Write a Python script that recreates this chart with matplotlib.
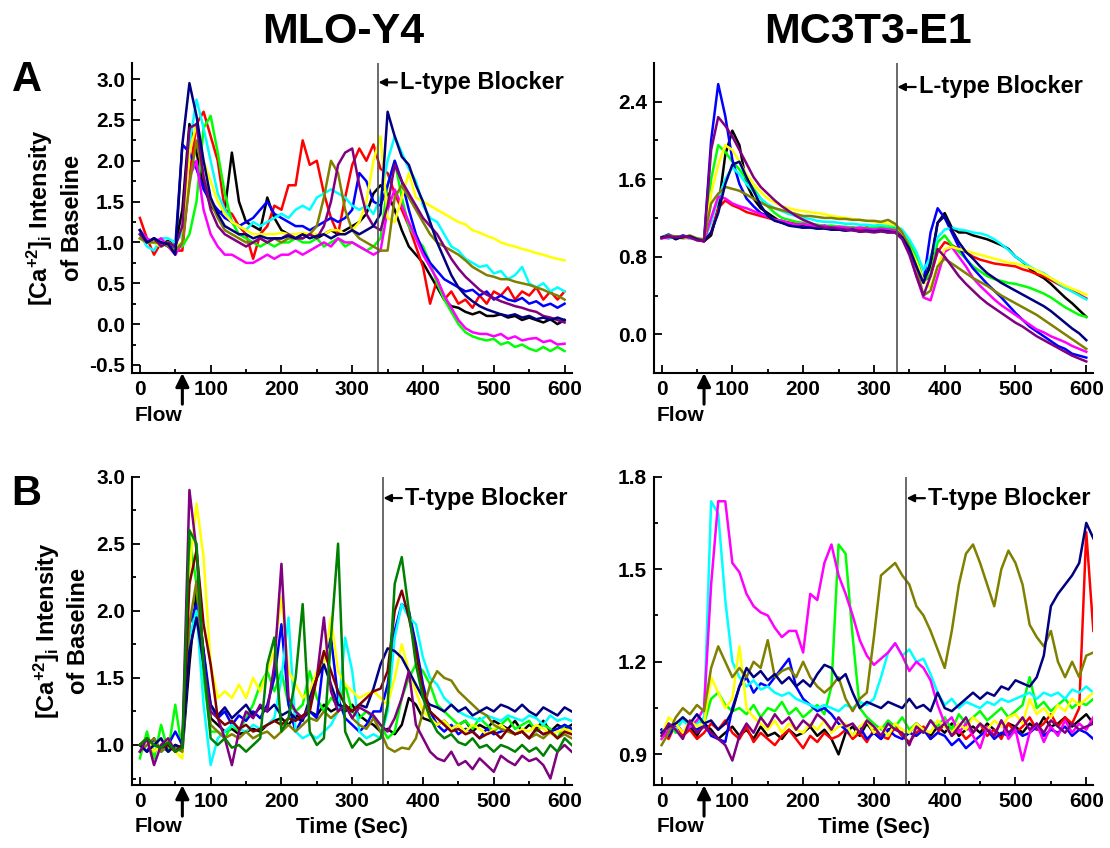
import matplotlib.pyplot as plt
import numpy as np

plt.rcParams['font.family'] = 'Liberation Sans'
plt.rcParams['font.weight'] = 'bold'
plt.rcParams['mathtext.fontset'] = 'custom'
plt.rcParams['mathtext.rm'] = 'Liberation Sans:bold'
plt.rcParams['mathtext.bf'] = 'Liberation Sans:bold'
plt.rcParams['mathtext.it'] = 'Liberation Sans:bold'
plt.rcParams['mathtext.default'] = 'bf'

# sample times (s)
time_a = np.arange(0, 601, 10)
time_b = np.arange(0, 611, 10)

# ---------------- A / MLO-Y4 (L-type blocker) ----------------
a_mlo_black = [
    1.10, 1.00, 1.05, 0.98, 1.02, 0.95, 1.40, 2.45, 2.10, 1.70,
    1.45, 1.35, 1.40, 2.10, 1.50, 1.25, 1.20, 1.15, 1.55, 1.30,
    1.15, 1.10, 1.05, 1.10, 1.10, 1.05, 1.10, 1.15, 1.10, 1.15,
    1.20, 1.25, 1.35, 1.60, 1.70, 1.60, 1.40, 1.15, 0.95, 0.85,
    0.75, 0.60, 0.45, 0.30, 0.22, 0.20, 0.15, 0.12, 0.15, 0.10,
    0.10, 0.12, 0.08, 0.10, 0.05, 0.08, 0.05, 0.02, 0.06, 0.00,
    0.05]
a_mlo_red = [
    1.30, 1.05, 0.85, 1.00, 0.95, 0.90, 0.90, 1.80, 2.45, 2.60,
    2.30, 2.00, 1.40, 1.35, 1.20, 1.10, 0.80, 1.10, 1.20, 1.45,
    1.40, 1.70, 1.70, 2.25, 1.95, 2.00, 1.60, 1.30, 1.10, 1.55,
    1.95, 2.15, 2.00, 2.20, 1.90, 1.85, 1.60, 1.40, 1.20, 0.95,
    0.70, 0.25, 0.55, 0.30, 0.40, 0.25, 0.30, 0.20, 0.35, 0.25,
    0.40, 0.35, 0.45, 0.30, 0.40, 0.35, 0.45, 0.30, 0.40, 0.30,
    0.40]
a_mlo_green = [
    1.05, 1.00, 1.00, 0.95, 1.00, 0.95, 0.95, 1.10, 1.50, 2.40,
    2.55, 2.10, 1.60, 1.25, 1.10, 1.05, 1.00, 0.95, 1.00, 0.95,
    1.00, 1.00, 1.05, 1.00, 1.00, 1.05, 0.95, 1.00, 1.05, 0.95,
    1.00, 0.95, 0.90, 0.95, 1.05, 1.70, 2.00, 1.55, 1.20, 1.05,
    0.95, 0.75, 0.50, 0.30, 0.15, 0.00, -0.10, -0.15, -0.18, -0.20,
    -0.18, -0.25, -0.22, -0.28, -0.25, -0.30, -0.33, -0.28, -0.33, -0.28,
    -0.33]
a_mlo_blue = [
    1.15, 1.00, 1.05, 1.00, 0.95, 0.95, 2.20, 2.10, 1.90, 1.65,
    1.50, 1.40, 1.30, 1.25, 1.20, 1.25, 1.30, 1.40, 1.50, 1.35,
    1.30, 1.25, 1.20, 1.20, 1.15, 1.20, 1.25, 1.30, 1.25, 1.30,
    1.40, 1.85, 1.75, 1.50, 1.45, 1.70, 2.00, 1.75, 1.40, 1.10,
    0.90, 0.75, 0.65, 0.55, 0.50, 0.45, 0.40, 0.42, 0.35, 0.40,
    0.30, 0.35, 0.30, 0.28, 0.32, 0.25, 0.28, 0.22, 0.25, 0.20,
    0.25]
a_mlo_cyan = [
    1.10, 0.95, 0.90, 1.05, 1.05, 1.00, 1.10, 2.20, 2.75, 2.40,
    2.00, 1.60, 1.40, 1.25, 1.20, 1.15, 1.25, 1.20, 1.25, 1.30,
    1.35, 1.30, 1.40, 1.45, 1.40, 1.55, 1.60, 1.65, 1.60, 1.55,
    1.45, 1.40, 1.45, 1.35, 1.55, 2.00, 2.30, 2.10, 1.90, 1.75,
    1.45, 1.30, 1.25, 1.10, 0.95, 0.90, 0.80, 0.75, 0.70, 0.72,
    0.62, 0.65, 0.55, 0.60, 0.70, 0.50, 0.45, 0.50, 0.40, 0.45,
    0.40]
a_mlo_magenta = [
    1.15, 1.05, 1.00, 1.05, 0.95, 0.85, 1.00, 1.80, 2.00, 1.40,
    1.10, 0.95, 0.85, 0.85, 0.80, 0.75, 0.75, 0.80, 0.85, 0.80,
    0.85, 0.85, 0.90, 0.85, 0.90, 0.95, 1.00, 0.95, 1.05, 1.00,
    1.00, 0.95, 0.90, 0.85, 0.90, 1.40, 1.65, 1.45, 1.25, 1.05,
    0.85, 0.70, 0.55, 0.35, 0.20, 0.05, -0.05, -0.10, -0.12, -0.12,
    -0.15, -0.12, -0.18, -0.15, -0.20, -0.18, -0.17, -0.22, -0.20, -0.25,
    -0.24]
a_mlo_yellow = [
    1.05, 1.00, 1.00, 0.95, 1.00, 0.95, 1.00, 2.10, 2.45, 2.00,
    1.75, 1.50, 1.35, 1.25, 1.20, 1.15, 1.10, 1.10, 1.10, 1.10,
    1.12, 1.10, 1.10, 1.12, 1.10, 1.10, 1.10, 1.15, 1.15, 1.10,
    1.15, 1.25, 1.50, 2.00, 2.30, 1.30, 1.25, 1.55, 1.85, 1.55,
    1.50, 1.45, 1.40, 1.35, 1.30, 1.25, 1.22, 1.15, 1.12, 1.08,
    1.05, 1.00, 0.97, 0.95, 0.92, 0.90, 0.87, 0.85, 0.82, 0.80,
    0.78]
a_mlo_olive = [
    1.05, 1.00, 1.00, 1.00, 0.95, 0.90, 1.00, 1.70, 2.25, 1.80,
    1.50, 1.30, 1.15, 1.10, 1.05, 1.00, 1.00, 1.05, 1.00, 1.05,
    1.00, 1.05, 1.05, 1.05, 1.10, 1.20, 1.55, 2.00, 1.85, 1.40,
    1.15, 1.05, 1.00, 0.95, 0.90, 0.90, 1.55, 1.70, 1.55, 1.40,
    1.25, 1.10, 1.00, 0.95, 0.90, 0.85, 0.78, 0.70, 0.65, 0.60,
    0.58, 0.55, 0.55, 0.52, 0.50, 0.48, 0.45, 0.42, 0.38, 0.35,
    0.30]
a_mlo_navy = [
    1.15, 1.00, 1.05, 1.00, 0.98, 0.85, 2.20, 2.95, 2.55, 2.00,
    1.55, 1.35, 1.20, 1.15, 1.10, 1.10, 1.05, 1.08, 1.05, 1.05,
    1.05, 1.08, 1.05, 1.10, 1.05, 1.08, 1.10, 1.05, 1.10, 1.10,
    1.15, 1.10, 1.15, 1.20, 1.35, 2.60, 2.30, 2.05, 1.95, 1.70,
    1.50, 1.25, 1.00, 0.80, 0.60, 0.45, 0.35, 0.28, 0.22, 0.18,
    0.15, 0.12, 0.10, 0.12, 0.08, 0.10, 0.06, 0.08, 0.05, 0.08,
    0.05]
a_mlo_purple = [
    1.10, 1.00, 1.05, 0.95, 1.00, 0.95, 1.20, 2.40, 2.45, 1.80,
    1.40, 1.20, 1.10, 1.05, 1.00, 0.95, 1.00, 1.05, 1.00, 1.05,
    1.05, 1.10, 1.05, 1.05, 1.10, 1.05, 1.20, 1.50, 1.95, 2.10,
    2.15, 1.70, 1.35, 1.20, 1.15, 1.45, 1.95, 1.75, 1.60, 1.45,
    1.30, 1.20, 1.10, 0.95, 0.80, 0.68, 0.58, 0.50, 0.42, 0.36,
    0.32, 0.28, 0.25, 0.22, 0.20, 0.17, 0.15, 0.10, 0.08, 0.05,
    0.02]

# ---------------- A / MC3T3-E1 (L-type blocker) ----------------
a_mc3_black = [
    1.00, 1.02, 0.98, 1.01, 1.00, 0.98, 0.96, 1.02, 1.30, 1.85,
    2.10, 1.95, 1.55, 1.40, 1.30, 1.25, 1.20, 1.15, 1.15, 1.12,
    1.13, 1.12, 1.10, 1.12, 1.10, 1.10, 1.08, 1.10, 1.08, 1.10,
    1.08, 1.10, 1.08, 1.10, 1.00, 0.85, 0.70, 0.55, 0.70, 1.15,
    1.25, 1.10, 1.05, 1.05, 1.02, 1.00, 0.98, 0.95, 0.92, 0.88,
    0.80, 0.75, 0.68, 0.62, 0.58, 0.52, 0.45, 0.38, 0.32, 0.25,
    0.18]
a_mc3_red = [
    1.00, 0.99, 1.01, 1.00, 0.99, 0.98, 0.96, 1.05, 1.30, 1.38,
    1.33, 1.30, 1.26, 1.24, 1.22, 1.20, 1.18, 1.17, 1.15, 1.15,
    1.14, 1.12, 1.12, 1.11, 1.10, 1.10, 1.09, 1.10, 1.08, 1.09,
    1.08, 1.10, 1.08, 1.08, 1.02, 0.90, 0.72, 0.55, 0.60, 0.85,
    0.95, 0.92, 0.88, 0.85, 0.80, 0.77, 0.75, 0.73, 0.72, 0.71,
    0.70, 0.67, 0.65, 0.62, 0.60, 0.56, 0.52, 0.48, 0.45, 0.41,
    0.37]
a_mc3_green = [
    1.00, 1.01, 1.00, 0.99, 1.01, 0.98, 0.97, 1.60, 1.95, 1.88,
    1.78, 1.70, 1.60, 1.50, 1.40, 1.32, 1.25, 1.20, 1.18, 1.16,
    1.15, 1.14, 1.13, 1.12, 1.12, 1.11, 1.11, 1.10, 1.10, 1.10,
    1.10, 1.11, 1.10, 1.10, 1.05, 0.95, 0.80, 0.55, 0.62, 0.95,
    1.02, 0.92, 0.85, 0.78, 0.70, 0.65, 0.60, 0.57, 0.55, 0.53,
    0.52, 0.50, 0.48, 0.45, 0.42, 0.38, 0.33, 0.28, 0.24, 0.20,
    0.18]
a_mc3_blue = [
    1.00, 1.03, 0.99, 1.02, 1.00, 0.98, 0.97, 2.00, 2.58, 2.25,
    1.80, 1.55, 1.40, 1.32, 1.25, 1.22, 1.18, 1.15, 1.13, 1.12,
    1.10, 1.11, 1.09, 1.10, 1.08, 1.08, 1.07, 1.08, 1.06, 1.07,
    1.06, 1.07, 1.05, 1.06, 1.00, 0.88, 0.70, 0.54, 1.05, 1.30,
    1.20, 1.05, 0.90, 0.78, 0.68, 0.60, 0.52, 0.45, 0.38, 0.30,
    0.22, 0.15, 0.08, 0.03, -0.02, -0.07, -0.12, -0.15, -0.20, -0.22,
    -0.24]
a_mc3_cyan = [
    1.00, 0.99, 1.01, 1.00, 0.99, 0.98, 0.97, 1.15, 1.40, 1.60,
    1.72, 1.65, 1.55, 1.47, 1.40, 1.34, 1.30, 1.27, 1.24, 1.22,
    1.20, 1.19, 1.17, 1.16, 1.16, 1.15, 1.14, 1.14, 1.13, 1.13,
    1.12, 1.13, 1.12, 1.12, 1.08, 0.98, 0.85, 0.66, 0.80, 1.00,
    1.08, 1.10, 1.08, 1.07, 1.05, 1.04, 1.02, 0.98, 0.93, 0.87,
    0.80, 0.75, 0.70, 0.66, 0.63, 0.58, 0.53, 0.48, 0.44, 0.40,
    0.36]
a_mc3_magenta = [
    0.99, 1.00, 1.01, 0.99, 1.00, 0.97, 0.96, 1.20, 1.42, 1.40,
    1.35, 1.32, 1.30, 1.27, 1.24, 1.21, 1.18, 1.17, 1.15, 1.13,
    1.14, 1.12, 1.11, 1.12, 1.10, 1.11, 1.10, 1.09, 1.10, 1.09,
    1.08, 1.09, 1.08, 1.07, 1.00, 0.85, 0.60, 0.38, 0.35, 0.60,
    0.85, 0.90, 0.80, 0.70, 0.58, 0.50, 0.43, 0.36, 0.30, 0.25,
    0.20, 0.15, 0.10, 0.05, 0.02, -0.02, -0.05, -0.08, -0.12, -0.15,
    -0.18]
a_mc3_yellow = [
    1.00, 1.01, 1.00, 0.99, 1.01, 0.98, 0.97, 1.45, 1.75, 1.95,
    1.90, 1.78, 1.65, 1.55, 1.47, 1.40, 1.36, 1.32, 1.30, 1.28,
    1.27, 1.26, 1.25, 1.24, 1.22, 1.21, 1.20, 1.19, 1.18, 1.17,
    1.16, 1.15, 1.14, 1.13, 1.05, 0.90, 0.75, 0.55, 0.48, 0.70,
    0.88, 0.90, 0.88, 0.86, 0.84, 0.82, 0.80, 0.78, 0.76, 0.74,
    0.73, 0.71, 0.69, 0.66, 0.62, 0.58, 0.54, 0.50, 0.47, 0.44,
    0.41]
a_mc3_olive = [
    1.00, 1.02, 1.01, 1.00, 1.02, 0.99, 0.98, 1.35, 1.45, 1.52,
    1.50, 1.48, 1.44, 1.40, 1.36, 1.32, 1.30, 1.28, 1.26, 1.24,
    1.22, 1.22, 1.21, 1.20, 1.20, 1.19, 1.19, 1.18, 1.18, 1.17,
    1.17, 1.16, 1.18, 1.14, 1.05, 0.90, 0.70, 0.40, 0.45, 0.70,
    0.78, 0.73, 0.68, 0.63, 0.58, 0.54, 0.50, 0.45, 0.40, 0.36,
    0.32, 0.28, 0.24, 0.20, 0.15, 0.10, 0.05, 0.00, -0.05, -0.10,
    -0.15]
a_mc3_navy = [
    1.00, 1.01, 0.99, 1.00, 1.01, 0.98, 0.96, 1.05, 1.25, 1.55,
    1.75, 1.78, 1.62, 1.48, 1.33, 1.22, 1.17, 1.15, 1.12, 1.11,
    1.10, 1.10, 1.09, 1.09, 1.08, 1.08, 1.07, 1.08, 1.06, 1.07,
    1.06, 1.07, 1.06, 1.05, 1.00, 0.88, 0.70, 0.53, 0.75, 1.15,
    1.22, 1.08, 0.95, 0.85, 0.78, 0.70, 0.63, 0.58, 0.53, 0.49,
    0.45, 0.41, 0.37, 0.33, 0.29, 0.24, 0.18, 0.12, 0.06, 0.01,
    -0.06]
a_mc3_purple = [
    0.99, 1.01, 1.00, 1.01, 1.00, 0.97, 0.96, 1.90, 2.24, 2.15,
    2.04, 1.90, 1.76, 1.62, 1.52, 1.45, 1.38, 1.32, 1.27, 1.22,
    1.18, 1.15, 1.12, 1.10, 1.10, 1.09, 1.08, 1.07, 1.06, 1.06,
    1.05, 1.06, 1.05, 1.05, 0.98, 0.82, 0.60, 0.40, 0.60, 0.88,
    0.80, 0.70, 0.60, 0.52, 0.45, 0.38, 0.32, 0.27, 0.22, 0.17,
    0.12, 0.08, 0.03, -0.02, -0.06, -0.10, -0.14, -0.18, -0.22, -0.25,
    -0.28]

# ---------------- B / MLO-Y4 (T-type blocker) ----------------
b_mlo_black = [
    1.00, 1.05, 0.95, 1.00, 0.95, 1.00, 0.95, 1.60, 2.15, 1.70,
    1.20, 1.15, 1.10, 1.12, 1.08, 1.10, 1.12, 1.10, 1.15, 1.18,
    1.20, 1.15, 1.22, 1.20, 1.25, 1.22, 1.30, 1.25, 1.28, 1.25,
    1.30, 1.22, 1.18, 1.15, 1.10, 1.12, 1.08, 1.15, 1.35, 1.30,
    1.20, 1.18, 1.15, 1.18, 1.12, 1.15, 1.18, 1.10, 1.15, 1.12,
    1.18, 1.15, 1.12, 1.18, 1.10, 1.15, 1.12, 1.18, 1.10, 1.15,
    1.12, 1.15]
b_mlo_green = [
    0.90, 1.10, 0.90, 1.15, 0.95, 1.30, 0.95, 2.55, 2.20, 1.50,
    1.10, 1.10, 1.05, 1.15, 1.10, 1.20, 1.30, 1.45, 1.55, 1.40,
    1.55, 1.30, 1.25, 1.30, 1.55, 1.35, 1.25, 1.35, 1.30, 1.45,
    1.25, 1.20, 1.25, 1.20, 1.15, 1.05, 1.10, 1.35, 1.50, 1.60,
    1.55, 1.45, 1.30, 1.25, 1.20, 1.15, 1.18, 1.12, 1.20, 1.15,
    1.10, 1.15, 1.20, 1.12, 1.15, 1.18, 1.10, 1.15, 1.12, 1.05,
    1.15, 1.12]
b_mlo_blue = [
    1.00, 0.95, 1.05, 0.95, 1.00, 1.10, 1.00, 1.90, 2.05, 1.70,
    1.30, 1.20, 1.25, 1.15, 1.22, 1.18, 1.25, 1.20, 1.30, 1.50,
    1.90, 1.30, 1.10, 1.20, 1.25, 1.20, 1.65, 1.80, 1.35, 1.20,
    1.15, 1.10, 1.15, 1.25, 1.25, 1.45, 1.85, 2.05, 2.00, 1.75,
    1.45, 1.25, 1.15, 1.10, 1.15, 1.08, 1.12, 1.10, 1.05, 1.12,
    1.08, 1.10, 1.12, 1.08, 1.10, 1.05, 1.12, 1.08, 1.10, 1.12,
    1.15, 1.12]
b_mlo_cyan = [
    0.95, 1.00, 1.00, 0.95, 1.00, 0.98, 0.95, 1.80, 2.00, 1.30,
    0.85, 1.05, 1.10, 1.15, 1.12, 1.10, 1.15, 1.12, 1.15, 1.20,
    1.50, 1.95, 1.10, 1.05, 1.08, 1.05, 1.10, 1.15, 1.25, 1.80,
    1.55, 1.10, 1.05, 1.08, 1.05, 1.25, 1.80, 2.05, 1.95, 1.90,
    1.65, 1.50, 1.45, 1.35, 1.30, 1.25, 1.22, 1.20, 1.18, 1.22,
    1.20, 1.18, 1.22, 1.20, 1.18, 1.22, 1.20, 1.15, 1.22, 1.18,
    1.20, 1.18]
b_mlo_yellow = [
    1.00, 1.05, 0.95, 1.00, 1.05, 0.95, 0.90, 2.30, 2.80, 2.40,
    1.60, 1.35, 1.40, 1.35, 1.45, 1.35, 1.50, 1.40, 1.55, 1.70,
    2.10, 1.55, 1.45, 1.35, 1.40, 1.55, 1.60, 1.95, 1.55, 1.45,
    1.40, 1.35, 1.38, 1.40, 1.35, 1.30, 1.50, 1.75, 1.55, 1.40,
    1.25, 1.20, 1.15, 1.18, 1.12, 1.15, 1.10, 1.15, 1.12, 1.08,
    1.12, 1.15, 1.10, 1.08, 1.12, 1.10, 1.15, 1.12, 1.08, 1.10,
    1.12, 1.10]
b_mlo_olive = [
    0.95, 1.00, 1.05, 0.95, 1.00, 0.98, 0.95, 1.90, 2.22, 1.60,
    1.15, 1.10, 1.05, 1.08, 1.05, 1.10, 1.05, 1.08, 1.10, 1.05,
    1.10, 1.15, 1.10, 1.15, 1.20, 1.18, 1.25, 1.20, 1.25, 1.30,
    1.20, 1.15, 1.12, 1.20, 1.10, 0.98, 0.95, 0.98, 0.97, 1.05,
    1.25, 1.45, 1.55, 1.50, 1.48, 1.40, 1.35, 1.30, 1.25, 1.22,
    1.15, 1.12, 1.10, 1.08, 1.10, 1.05, 1.08, 1.05, 1.10, 1.05,
    1.08, 1.05]
b_mlo_navy = [
    1.00, 0.95, 1.00, 1.05, 0.95, 1.00, 0.98, 1.70, 1.95, 1.60,
    1.30, 1.22, 1.28, 1.20, 1.25, 1.30, 1.22, 1.28, 1.25, 1.30,
    1.22, 1.25, 1.20, 1.18, 1.35, 1.50, 1.60, 1.45, 1.30, 1.28,
    1.25, 1.30, 1.28, 1.42, 1.60, 1.72, 1.70, 1.65, 1.55, 1.45,
    1.35, 1.30, 1.28, 1.25, 1.30, 1.25, 1.28, 1.22, 1.25, 1.28,
    1.25, 1.30, 1.28, 1.25, 1.30, 1.25, 1.22, 1.28, 1.25, 1.22,
    1.28, 1.25]
b_mlo_purple = [
    0.95, 1.05, 0.85, 1.00, 1.05, 0.95, 1.00, 2.90, 2.45, 1.60,
    1.25, 1.20, 1.05, 0.85, 1.10, 1.25, 1.20, 1.30, 1.25, 1.60,
    2.35, 1.35, 1.25, 1.20, 1.30, 1.50, 1.95, 1.40, 1.25, 1.30,
    1.20, 1.28, 1.25, 1.22, 1.15, 1.10, 1.20, 1.35, 1.55, 1.15,
    1.05, 0.95, 0.90, 0.88, 0.95, 0.85, 0.88, 0.82, 0.90, 0.85,
    0.80, 0.92, 0.88, 0.85, 0.92, 0.88, 0.90, 0.85, 0.75, 0.95,
    1.00, 0.95]
b_mlo_wine = [
    1.00, 1.05, 1.00, 0.98, 1.00, 0.95, 1.00, 2.20, 2.45, 1.90,
    1.60, 1.20, 1.15, 1.18, 1.12, 1.15, 1.10, 1.12, 1.15, 1.18,
    1.15, 1.20, 1.18, 1.22, 1.25, 1.50, 1.70, 1.55, 1.40, 1.30,
    1.25, 1.30, 1.35, 1.40, 1.42, 1.55, 2.00, 2.15, 1.95, 1.70,
    1.40, 1.25, 1.20, 1.15, 1.10, 1.12, 1.08, 1.10, 1.05, 1.08,
    1.10, 1.05, 1.12, 1.08, 1.10, 1.05, 1.12, 1.08, 1.10, 1.05,
    1.10, 1.08]
b_mlo_dkgreen = [
    1.00, 1.05, 1.00, 0.98, 1.02, 0.95, 0.98, 2.60, 2.50, 1.60,
    1.05, 1.00, 1.05, 0.98, 1.00, 0.95, 1.00, 1.05, 1.60, 1.80,
    1.10, 1.20, 1.50, 2.05, 1.10, 1.00, 1.05, 1.80, 2.50, 1.10,
    0.98, 1.05, 1.00, 1.02, 1.05, 1.30, 2.20, 2.40, 2.00, 1.60,
    1.35, 1.20, 1.10, 1.05, 1.08, 1.02, 1.00, 1.05, 0.98, 1.00,
    0.95, 1.00, 0.98, 0.95, 1.00, 0.95, 0.98, 0.92, 1.00, 0.95,
    1.05, 1.00]

# ---------------- B / MC3T3-E1 (T-type blocker) ----------------
b_mc3_black = [
    0.98, 0.96, 1.00, 0.97, 0.99, 0.96, 1.00, 0.98, 0.95, 0.97,
    0.99, 0.96, 0.98, 0.95, 0.99, 0.96, 0.97, 0.95, 0.98, 0.96,
    0.97, 0.99, 0.96, 0.98, 0.95, 0.90, 0.97, 0.99, 0.96, 1.00,
    0.97, 0.95, 0.98, 0.99, 0.96, 0.97, 1.00, 0.98, 0.96, 0.99,
    0.97, 1.00, 0.96, 0.98, 0.99, 0.97, 1.00, 0.98, 0.96, 1.00,
    0.99, 0.97, 1.00, 0.98, 1.02, 0.99, 1.00, 1.02, 0.99, 1.01,
    1.03, 1.00]
b_mc3_red = [
    0.97, 0.95, 1.00, 0.96, 0.98, 0.95, 0.97, 1.00, 0.98, 1.01,
    0.97, 0.95, 0.99, 0.94, 0.97, 0.95, 0.93, 0.96, 0.98, 0.95,
    0.92, 0.96, 0.94, 0.97, 0.95, 0.96, 0.98, 0.95, 0.97, 0.94,
    0.98, 0.96, 0.95, 0.99, 0.96, 0.94, 0.97, 0.99, 0.95, 0.97,
    1.00, 0.96, 0.98, 0.95, 0.97, 1.00, 0.96, 0.98, 0.95, 1.00,
    0.97, 0.99, 1.02, 0.98, 1.00, 1.03, 0.99, 1.02, 1.00, 1.05,
    1.62, 1.30]
b_mc3_green = [
    0.96, 1.00, 0.97, 1.02, 0.99, 1.01, 1.00, 1.08, 1.10, 1.06,
    1.04, 1.05, 1.03, 1.06, 1.02, 1.05, 1.04, 1.07, 1.03, 1.05,
    1.02, 1.04, 1.06, 1.03, 1.12, 1.58, 1.55, 1.28, 1.05, 1.02,
    1.00, 0.98, 1.01, 0.99, 1.02, 0.98, 1.00, 0.97, 1.01, 0.99,
    1.02, 0.98, 1.03, 1.00, 1.02, 1.04, 1.01, 1.03, 1.05, 1.02,
    1.04, 1.06, 1.15, 1.05, 1.07, 1.04, 1.06, 1.08, 1.05, 1.07,
    1.06, 1.08]
b_mc3_blue = [
    0.98, 0.96, 1.00, 0.97, 0.99, 0.98, 1.00, 0.96, 0.95, 0.94,
    1.05, 1.12, 1.15, 1.10, 1.13, 1.12, 1.15, 1.18, 1.21, 1.12,
    1.08, 1.06, 1.04, 1.05, 1.03, 1.00, 0.98, 0.96, 0.99, 0.95,
    0.97, 0.95, 0.98, 0.96, 0.95, 0.97, 0.96, 0.98, 0.95, 0.97,
    0.96, 0.93, 0.95, 0.92, 0.94, 0.96, 0.98, 0.95, 0.97, 0.96,
    0.98, 0.96, 0.97, 0.99, 0.96, 0.98, 0.97, 0.99, 0.96, 0.98,
    0.97, 0.95]
b_mc3_cyan = [
    0.97, 1.00, 0.98, 1.01, 0.99, 1.00, 1.02, 1.72, 1.68, 1.40,
    1.20, 1.15, 1.12, 1.14, 1.11, 1.12, 1.10, 1.09, 1.10, 1.08,
    1.07, 1.06, 1.05, 1.06, 1.05, 1.04, 1.06, 1.05, 1.07, 1.06,
    1.08, 1.15, 1.23, 1.26, 1.22, 1.24, 1.20, 1.21, 1.16, 1.10,
    1.06, 1.08, 1.05, 1.07, 1.06, 1.05, 1.07, 1.06, 1.08, 1.07,
    1.08, 1.09, 1.10, 1.08, 1.10, 1.09, 1.10, 1.08, 1.11, 1.10,
    1.12, 1.10]
b_mc3_magenta = [
    0.95, 0.98, 1.00, 0.97, 0.99, 1.01, 1.05, 1.45, 1.72, 1.72,
    1.52, 1.49, 1.42, 1.38, 1.36, 1.35, 1.31, 1.28, 1.30, 1.30,
    1.23, 1.42, 1.40, 1.52, 1.58, 1.48, 1.42, 1.35, 1.27, 1.22,
    1.19, 1.21, 1.23, 1.26, 1.22, 1.17, 1.20, 1.18, 1.14, 1.06,
    1.00, 1.02, 0.97, 1.00, 0.96, 0.92, 0.99, 0.96, 1.01, 0.95,
    0.98, 0.88, 0.97, 1.00, 0.94, 0.99, 0.96, 1.01, 0.97, 1.00,
    0.98, 1.02]
b_mc3_yellow = [
    0.96, 1.02, 1.00, 0.97, 1.01, 0.99, 1.00, 1.15, 1.10, 1.05,
    1.08, 1.25, 1.05, 1.02, 1.00, 0.98, 1.01, 0.97, 1.00, 0.98,
    0.97, 1.00, 0.98, 1.01, 0.97, 0.99, 1.00, 0.96, 0.99, 1.01,
    0.97, 0.99, 0.96, 1.00, 0.98, 0.97, 1.00, 0.98, 0.97, 1.01,
    0.99, 0.97, 1.00, 0.98, 1.02, 1.00, 0.98, 1.01, 0.99, 1.02,
    1.03, 1.00, 1.08, 1.03, 1.05, 1.02, 1.06, 1.04, 1.08, 1.06,
    1.08, 1.10]
b_mc3_olive = [
    0.93, 0.97, 1.02, 1.05, 1.03, 1.06, 1.04, 1.18, 1.25, 1.20,
    1.15, 1.18, 1.15, 1.20, 1.18, 1.27, 1.15, 1.17, 1.18, 1.15,
    1.20, 1.15, 1.12, 1.10, 1.12, 1.15, 1.08, 1.04, 1.08, 1.10,
    1.28, 1.48, 1.50, 1.52, 1.48, 1.45, 1.38, 1.35, 1.30, 1.24,
    1.18, 1.30, 1.45, 1.55, 1.58, 1.52, 1.45, 1.38, 1.50, 1.56,
    1.52, 1.45, 1.32, 1.28, 1.25, 1.30, 1.20, 1.15, 1.20, 1.15,
    1.22, 1.23]
b_mc3_navy = [
    0.97, 0.99, 1.00, 1.02, 1.00, 1.03, 1.00, 1.01, 0.98, 1.00,
    1.04, 1.12, 1.18, 1.15, 1.17, 1.14, 1.16, 1.13, 1.15, 1.12,
    1.14, 1.12, 1.16, 1.19, 1.18, 1.14, 1.16, 1.10, 1.05, 1.07,
    1.06, 1.05, 1.07, 1.06, 1.05, 1.08, 1.05, 1.06, 1.04, 1.10,
    1.05, 1.04, 1.06, 1.08, 1.10, 1.08, 1.10, 1.09, 1.12, 1.11,
    1.14, 1.13, 1.12, 1.15, 1.22, 1.38, 1.42, 1.45, 1.48, 1.52,
    1.65, 1.60]
b_mc3_purple = [
    0.96, 1.00, 0.98, 0.95, 1.01, 0.97, 0.99, 0.97, 0.95, 0.93,
    0.88, 0.96, 1.00, 0.97, 1.02, 0.99, 1.03, 1.00, 1.02, 0.98,
    1.01, 0.99, 1.03, 1.01, 0.98, 1.02, 0.99, 1.00, 0.97, 1.01,
    0.99, 0.96, 1.00, 0.98, 0.97, 0.93, 0.99, 0.97, 1.01, 0.98,
    1.00, 0.96, 0.99, 1.02, 0.97, 1.00, 0.98, 0.96, 1.01, 0.97,
    0.99, 1.02, 0.98, 1.00, 0.97, 1.01, 0.99, 0.97, 1.00, 0.98,
    0.99, 1.00]

BLACK = '#000000'
RED = '#ff0000'
GREEN = '#00ff00'
BLUE = '#0000ff'
CYAN = '#00ffff'
MAGENTA = '#ff00ff'
YELLOW = '#ffff00'
OLIVE = '#808000'
NAVY = '#000080'
PURPLE = '#800080'
WINE = '#800000'
DKGREEN = '#008000'

a_mlo = [(a_mlo_black, BLACK), (a_mlo_red, RED), (a_mlo_green, GREEN),
         (a_mlo_blue, BLUE), (a_mlo_cyan, CYAN), (a_mlo_magenta, MAGENTA),
         (a_mlo_yellow, YELLOW), (a_mlo_olive, OLIVE), (a_mlo_purple, PURPLE),
         (a_mlo_navy, NAVY)]
a_mc3 = [(a_mc3_black, BLACK), (a_mc3_red, RED), (a_mc3_green, GREEN),
         (a_mc3_blue, BLUE), (a_mc3_cyan, CYAN), (a_mc3_magenta, MAGENTA),
         (a_mc3_yellow, YELLOW), (a_mc3_olive, OLIVE), (a_mc3_navy, NAVY),
         (a_mc3_purple, PURPLE)]
b_mlo = [(b_mlo_black, BLACK), (b_mlo_green, GREEN), (b_mlo_blue, BLUE),
         (b_mlo_cyan, CYAN), (b_mlo_yellow, YELLOW), (b_mlo_olive, OLIVE),
         (b_mlo_navy, NAVY), (b_mlo_purple, PURPLE), (b_mlo_wine, WINE),
         (b_mlo_dkgreen, DKGREEN)]
b_mc3 = [(b_mc3_black, BLACK), (b_mc3_red, RED), (b_mc3_green, GREEN),
         (b_mc3_blue, BLUE), (b_mc3_cyan, CYAN), (b_mc3_magenta, MAGENTA),
         (b_mc3_yellow, YELLOW), (b_mc3_olive, OLIVE), (b_mc3_navy, NAVY),
         (b_mc3_purple, PURPLE)]

ylab = '[Ca$^{+2}$]$_{i}$ Intensity\nof Baseline'


def panel(ax, t, traces, ylim, yticks, yminor, blocker, btext, btext_y, ylabel=False, xlabel=False):
    for vals, col in traces:
        ax.plot(t, vals, color=col, lw=1.8)
    ax.axvline(blocker, color='#505050', lw=1.2)
    ax.annotate('', xy=(blocker, btext_y), xytext=(blocker + 26, btext_y),
                arrowprops=dict(arrowstyle='-|>', color='k', lw=1.6, mutation_scale=11,
                                shrinkA=0, shrinkB=0))
    ax.text(blocker + 30, btext_y, btext, fontsize=17, fontweight='bold', va='center', ha='left')
    ax.set_xlim(-11, 610)
    ax.set_ylim(*ylim)
    ax.set_xticks(range(0, 601, 100))
    ax.set_xticks(range(50, 601, 100), minor=True)
    ax.set_yticks(yticks)
    ax.set_yticks(yminor, minor=True)
    ax.tick_params(which='both', direction='in', labelsize=15, width=1.3)
    ax.tick_params(which='major', length=6, pad=5)
    ax.tick_params(which='minor', length=3)
    for s in ['top', 'right']:
        ax.spines[s].set_visible(False)
    for s in ['left', 'bottom']:
        ax.spines[s].set_linewidth(1.5)
    for lab in ax.get_xticklabels() + ax.get_yticklabels():
        lab.set_fontweight('bold')
    # flow arrow
    tr = ax.get_xaxis_transform()
    ax.annotate('', xy=(60, 0), xycoords=tr, xytext=(60, -0.1), textcoords=tr,
                arrowprops=dict(arrowstyle='-|>', color='k', lw=2.2, mutation_scale=20,
                                shrinkA=0, shrinkB=0), annotation_clip=False)
    ax.text(-7, -0.135, 'Flow', transform=tr, fontsize=15, fontweight='bold',
            ha='left', va='center')
    if ylabel:
        ax.set_ylabel(ylab, fontsize=17, fontweight='bold', labelpad=4, linespacing=1.3)
    if xlabel:
        ax.set_xlabel('Time (Sec)', fontsize=16, fontweight='bold', labelpad=4)


fig = plt.figure(figsize=(11.1, 8.48), dpi=100)
ax1 = fig.add_axes([0.119, 0.560, 0.396, 0.366])
ax2 = fig.add_axes([0.589, 0.560, 0.396, 0.366])
ax3 = fig.add_axes([0.119, 0.074, 0.396, 0.364])
ax4 = fig.add_axes([0.589, 0.074, 0.396, 0.364])

panel(ax1, time_a, a_mlo, (-0.6, 3.2), np.arange(-0.5, 3.01, 0.5), np.arange(-0.25, 3.01, 0.5),
      337, 'L-type Blocker', 2.96, ylabel=True)
panel(ax2, time_a, a_mc3, (-0.4, 2.8), [0.0, 0.8, 1.6, 2.4], [-0.4, 0.4, 1.2, 2.0],
      333, 'L-type Blocker', 2.55)
panel(ax3, time_b, b_mlo, (0.7, 3.0), np.arange(1.0, 3.01, 0.5), np.arange(0.75, 3.0, 0.5),
      344, 'T-type Blocker', 2.84, ylabel=True, xlabel=True)
panel(ax4, time_b, b_mc3, (0.8, 1.8), [0.9, 1.2, 1.5, 1.8], [1.05, 1.35, 1.65],
      346, 'T-type Blocker', 1.73, xlabel=True)

ax1.yaxis.set_major_formatter(plt.FormatStrFormatter('%.1f'))
ax2.yaxis.set_major_formatter(plt.FormatStrFormatter('%.1f'))
ax3.yaxis.set_major_formatter(plt.FormatStrFormatter('%.1f'))
ax4.yaxis.set_major_formatter(plt.FormatStrFormatter('%.1f'))

fig.text(0.309, 0.962, 'MLO-Y4', fontsize=31, fontweight='bold', ha='center', va='center')
fig.text(0.782, 0.962, 'MC3T3-E1', fontsize=31, fontweight='bold', ha='center', va='center')
fig.text(0.024, 0.906, 'A', fontsize=30, fontweight='bold', ha='center', va='center')
fig.text(0.024, 0.418, 'B', fontsize=30, fontweight='bold', ha='center', va='center')

fig.savefig('out.png', dpi=100)
